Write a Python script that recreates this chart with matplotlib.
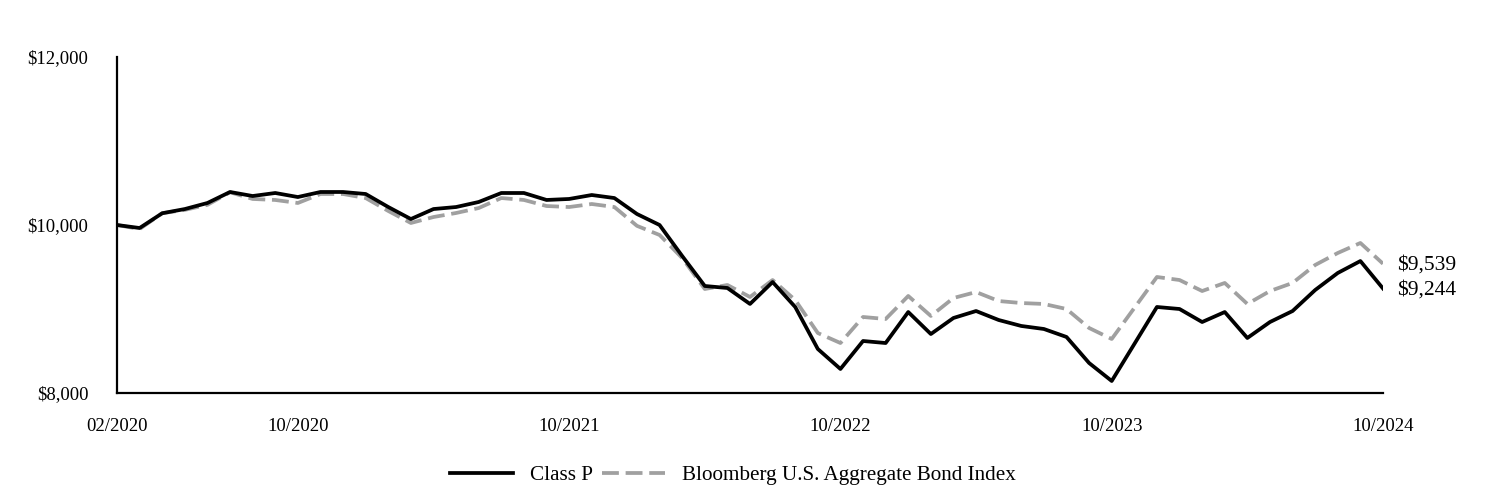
import matplotlib
matplotlib.use("Agg")
import matplotlib.pyplot as plt
import numpy as np

plt.rcParams['font.family'] = ['Liberation Serif', 'DejaVu Serif']

months = list(range(57))  # 02/2020 .. 10/2024 monthly
tick_pos = [0, 8, 20, 32, 44, 56]
tick_labels = ["02/2020", "10/2020", "10/2021", "10/2022", "10/2023", "10/2024"]

class_p = [10000, 9964, 10140, 10190, 10262, 10393, 10345, 10381, 10333, 10393,
           10393, 10369, 10214, 10071, 10190, 10214, 10274, 10381, 10381, 10298,
           10310, 10357, 10321, 10131, 10000, 9631, 9274, 9250, 9060, 9321,
           9024, 8524, 8286, 8619, 8595, 8964, 8702, 8893, 8976, 8869,
           8798, 8762, 8667, 8357, 8143, 8583, 9024, 9000, 8845, 8964,
           8655, 8845, 8976, 9226, 9429, 9571, 9244]

bloomberg = [10000, 9952, 10140, 10180, 10240, 10390, 10310, 10298, 10262, 10369,
             10369, 10321, 10167, 10024, 10095, 10143, 10202, 10321, 10298, 10226,
             10214, 10250, 10214, 9990, 9881, 9607, 9238, 9286, 9143, 9345,
             9107, 8714, 8595, 8905, 8881, 9155, 8917, 9131, 9202, 9095,
             9071, 9060, 9000, 8774, 8643, 9012, 9381, 9345, 9214, 9310,
             9060, 9214, 9310, 9524, 9667, 9786, 9539]

y_ticks = [8000, 10000, 12000]
y_labels = ["$8,000", "$10,000", "$12,000"]
end_labels = ["$9,244", "$9,539"]

fig = plt.figure(figsize=(14.88, 4.92), dpi=100)
ax = fig.add_axes([117/1488, 1-393/492, (1383-117)/1488, (393-57)/492])

lb, = ax.plot(months, bloomberg, color="#A0A0A0", lw=2.7, dashes=(4.5, 1.8),
              label="Bloomberg U.S. Aggregate Bond Index", solid_capstyle="butt")
lp, = ax.plot(months, class_p, color="black", lw=2.7, label="Class P")

ax.set_xlim(0, 56)
ax.set_ylim(8000, 12000)
ax.set_xticks(tick_pos)
ax.set_xticklabels(tick_labels, fontsize=13.5)
ax.set_yticks(y_ticks)
ax.set_yticklabels(y_labels, fontsize=13.5)
ax.tick_params(axis='both', length=0)
ax.tick_params(axis='y', pad=20.5)
ax.tick_params(axis='x', pad=18)
for s in ['top', 'right']:
    ax.spines[s].set_visible(False)
for s in ['left', 'bottom']:
    ax.spines[s].set_linewidth(1.6)

ax.annotate(end_labels[1], xy=(56, bloomberg[-1]), xytext=(10, -1),
            textcoords='offset points', va='center', ha='left', fontsize=15.5,
            annotation_clip=False)
ax.annotate(end_labels[0], xy=(56, class_p[-1]), xytext=(10, -1),
            textcoords='offset points', va='center', ha='left', fontsize=15.5,
            annotation_clip=False)

fig.legend(handles=[lp, lb], loc='center', bbox_to_anchor=(733/1488, 1-475/492),
           ncol=2, frameon=False, fontsize=15.2, handlelength=3.0,
           columnspacing=0.4, handletextpad=0.8)

fig.savefig("out.png", dpi=100)
